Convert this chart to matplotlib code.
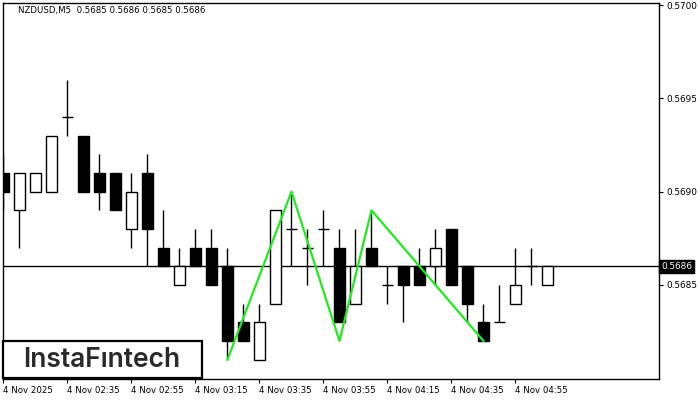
import matplotlib.pyplot as plt
from matplotlib.patches import Rectangle
import numpy as np

# ------------------- data -------------------
opens  = [0.5691, 0.5689, 0.5690, 0.5690, 0.5694, 0.5693, 0.5691, 0.5691, 0.5688, 0.5691,
          0.5687, 0.5685, 0.5687, 0.5687, 0.5686, 0.5683, 0.5681, 0.5684, 0.5688, 0.5687,
          0.5688, 0.5687, 0.5684, 0.5687, 0.5685, 0.5686, 0.5686, 0.5686, 0.5688, 0.5686,
          0.5683, 0.5683, 0.5684, 0.5686, 0.5685]
highs  = [0.5692, 0.5691, 0.5691, 0.5693, 0.5696, 0.5693, 0.5692, 0.5691, 0.5691, 0.5692,
          0.5689, 0.5687, 0.5688, 0.5688, 0.5687, 0.5684, 0.5684, 0.5689, 0.5690, 0.5688,
          0.5689, 0.5688, 0.5688, 0.5689, 0.5686, 0.5686, 0.5687, 0.5688, 0.5688, 0.5686,
          0.5684, 0.5685, 0.5687, 0.5687, 0.5686]
lows   = [0.5689, 0.5687, 0.5690, 0.5690, 0.5693, 0.5690, 0.5689, 0.5689, 0.5687, 0.5686,
          0.5686, 0.5685, 0.5686, 0.5685, 0.5681, 0.5682, 0.5681, 0.5684, 0.5686, 0.5685,
          0.5686, 0.5683, 0.5684, 0.5686, 0.5684, 0.5683, 0.5685, 0.5685, 0.5685, 0.5683,
          0.5682, 0.5683, 0.5684, 0.5685, 0.5685]
closes = [0.5690, 0.5691, 0.5691, 0.5693, 0.5694, 0.5690, 0.5690, 0.5689, 0.5690, 0.5688,
          0.5686, 0.5686, 0.5686, 0.5685, 0.5682, 0.5682, 0.5683, 0.5689, 0.5688, 0.5687,
          0.5688, 0.5683, 0.5686, 0.5686, 0.5685, 0.5685, 0.5685, 0.5687, 0.5685, 0.5684,
          0.5682, 0.5683, 0.5685, 0.5686, 0.5686]

# pattern points: candle index, price
patron_idx = [14, 18, 21, 23, 30]
patron_val = [0.5681, 0.5690, 0.5682, 0.5689, 0.5682]

precio_actual = 0.5686
xticks_idx = [0, 4, 8, 12, 16, 20, 24, 28, 32]
xticks_lbl = ['4 Nov 2025', '4 Nov 02:35', '4 Nov 02:55', '4 Nov 03:15', '4 Nov 03:35',
              '4 Nov 03:55', '4 Nov 04:15', '4 Nov 04:35', '4 Nov 04:55']
yticks = [0.5685, 0.5690, 0.5695, 0.5700]
titulo = 'NZDUSD,M5  0.5685 0.5686 0.5685 0.5686'
# ---------------------------------------------

W, H = 700, 400
fig = plt.figure(figsize=(7, 4), dpi=100)
ax = fig.add_axes([3 / W, 1 - 379 / H, 656 / W, 376 / H])

x = np.arange(len(opens))
o = np.array(opens); c = np.array(closes); h = np.array(highs); l = np.array(lows)
ancho = 0.68
lw = 1.0

# mechas
ax.vlines(x, l, h, color='black', lw=lw, zorder=2)
for i in range(len(x)):
    if abs(o[i] - c[i]) < 1e-9:
        ax.hlines(o[i], x[i] - ancho / 2, x[i] + ancho / 2, color='black', lw=lw, zorder=3)
    elif c[i] > o[i]:
        ax.bar(x[i], c[i] - o[i], bottom=o[i], width=ancho, facecolor='white',
               edgecolor='black', lw=lw, zorder=3)
    else:
        ax.bar(x[i], o[i] - c[i], bottom=c[i], width=ancho, facecolor='black',
               edgecolor='black', lw=lw, zorder=3)

ax.axhline(precio_actual, color='black', lw=1.0, zorder=1)
ax.plot(patron_idx, patron_val, color='#22e822', lw=1.6, zorder=4)

ax.set_xlim(-0.03, 40.97)
ax.set_ylim(0.567996, 0.570011)

ax.yaxis.tick_right()
ax.set_yticks(yticks)
ax.set_yticklabels(['%.4f' % v for v in yticks])
ax.tick_params(axis='y', direction='out', length=3, width=0.8, pad=2, labelsize=6.4)
ax.set_xticks(xticks_idx)
ax.set_xticklabels(xticks_lbl, ha='left')
ax.tick_params(axis='x', direction='out', length=3, width=0.8, pad=2, labelsize=6.2)
for s in ax.spines.values():
    s.set_linewidth(1.0)

ax.text(1.003, precio_actual, '%.4f' % precio_actual, transform=ax.get_yaxis_transform(),
        ha='left', va='center', fontsize=6.4, color='white',
        bbox=dict(boxstyle='square,pad=0.2', fc='black', ec='black'))

fig.text(18 / W, 1 - 11 / H, titulo, ha='left', va='center', fontsize=6.2, color='black')

# logo
fig.add_artist(Rectangle((3 / W, 1 - 378 / H), 199 / W, 37 / H, transform=fig.transFigure,
                         facecolor='white', edgecolor='black', lw=1.6, zorder=10))
fig.text(102 / W, 1 - 360 / H, 'InstaF\u0131ntech', ha='center', va='center',
         fontsize=19, family='Inter', weight='semibold', color='#2a2a2a', zorder=11)

fig.savefig('out.png', dpi=100)
